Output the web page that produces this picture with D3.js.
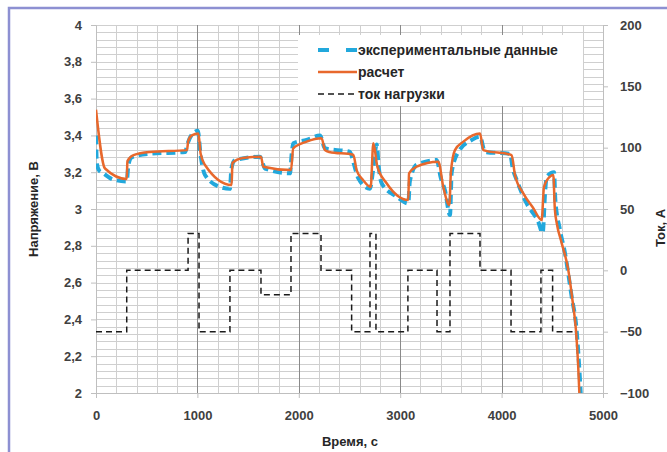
<!DOCTYPE html>
<html>
<head>
<meta charset="utf-8">
<script src="https://cdn.jsdelivr.net/npm/d3@7/dist/d3.min.js"></script>
<style>
body { margin: 0; background: #fff; }
text { font-family: "Liberation Sans", Arial, sans-serif; font-weight: bold; }
</style>
</head>
<body>
<script>
// experimental voltage (blue dashed), time in s
var tExp = [0, 8, 30, 70, 170, 303, 320, 352, 532, 880, 900, 976, 1005, 1030, 1075, 1223, 1321, 1335, 1371, 1617, 1667, 1913, 1930, 1946, 2077, 2209, 2258, 2505, 2540, 2587, 2702, 2730, 2768, 2790, 2817, 2965, 3080, 3095, 3162, 3360, 3400, 3442, 3491, 3508, 3573, 3705, 3787, 3836, 4083, 4110, 4149, 4247, 4362, 4405, 4430, 4445, 4517, 4530, 4576, 4625, 4691, 4740, 4773, 4785];
var vExp = [3.40, 3.25, 3.21, 3.195, 3.16, 3.15, 3.24, 3.28, 3.30, 3.31, 3.35, 3.42, 3.425, 3.30, 3.185, 3.12, 3.11, 3.22, 3.266, 3.284, 3.22, 3.194, 3.30, 3.357, 3.375, 3.40, 3.33, 3.31, 3.25, 3.167, 3.11, 3.20, 3.35, 3.22, 3.14, 3.067, 3.03, 3.15, 3.24, 3.266, 3.17, 3.10, 2.967, 3.20, 3.31, 3.375, 3.393, 3.31, 3.30, 3.22, 3.158, 3.03, 2.93, 2.87, 3.10, 3.176, 3.20, 3.05, 2.886, 2.76, 2.523, 2.34, 2.07, 1.95];

// calculated voltage (orange)
var tCalc = [0, 89, 303, 310, 370, 532, 897, 910, 945, 1010, 1032, 1075, 1338, 1345, 1450, 1627, 1650, 1923, 1945, 2077, 2225, 2258, 2300, 2537, 2571, 2633, 2709, 2735, 2775, 2866, 3080, 3087, 3162, 3376, 3425, 3485, 3500, 3540, 3623, 3787, 3820, 4099, 4132, 4214, 4313, 4395, 4418, 4477, 4510, 4525, 4545, 4590, 4658, 4700, 4734, 4755, 4767, 4780];
var vCalc = [3.54, 3.22, 3.163, 3.26, 3.293, 3.31, 3.32, 3.37, 3.40, 3.41, 3.30, 3.239, 3.13, 3.25, 3.277, 3.284, 3.23, 3.212, 3.33, 3.366, 3.384, 3.32, 3.31, 3.295, 3.21, 3.158, 3.12, 3.357, 3.23, 3.14, 3.049, 3.194, 3.23, 3.257, 3.12, 3.022, 3.20, 3.32, 3.366, 3.41, 3.32, 3.293, 3.185, 3.085, 3.004, 2.94, 3.12, 3.176, 3.185, 3.0, 2.92, 2.82, 2.668, 2.50, 2.337, 2.15, 2.0, 1.9];

// load current (A), steps start at these times
var tLoad = [0, 303, 908, 1016, 1321, 1627, 1923, 2219, 2521, 2702, 2761, 3076, 3363, 3491, 3787, 4093, 4388, 4503, 4750];
var iLoad = [-50, 0, 30, -50, 0, -20, 30, 0, -50, 30, -50, 0, -50, 30, 0, -50, 0, -50, -50];

var xTicks = [0, 1000, 2000, 3000, 4000, 5000];
var vTicks = [2, 2.2, 2.4, 2.6, 2.8, 3, 3.2, 3.4, 3.6, 3.8, 4];
var iTicks = [-100, -50, 0, 50, 100, 150, 200];
var legendNames = ["экспериментальные данные", "расчет", "ток нагрузки"];

var width = 667;
var height = 452;
var pLeft = 96, pRight = 603, pTop = 25, pBottom = 393;

var svg = d3.select("body")
    .append("svg")
    .attr("width", width)
    .attr("height", height);

// outer frame (only top and left edges are visible)
svg.append("rect")
    .attr("x", 9)
    .attr("y", 8)
    .attr("width", 700)
    .attr("height", 500)
    .style("fill", "none")
    .style("stroke", "#8d90d2")
    .style("stroke-width", 2.5);

var x = d3.scaleLinear().domain([0, 5000]).range([pLeft, pRight]);
var yV = d3.scaleLinear().domain([2, 4]).range([pBottom, pTop]);
var yI = d3.scaleLinear().domain([-100, 200]).range([pBottom, pTop]);

var grid = svg.append("g")
    .attr("class", "grid")
    .style("shape-rendering", "crispEdges");

// horizontal grid every 0.04 V
grid.selectAll("line.h")
    .data(d3.range(0, 51).map(i => 2 + i * 0.04))
    .enter()
    .append("line")
    .attr("class", "h")
    .attr("x1", pLeft)
    .attr("x2", pRight)
    .attr("y1", d => Math.round(yV(d)) + 0.5)
    .attr("y2", d => Math.round(yV(d)) + 0.5)
    .style("stroke", "#cfcfcf");

// vertical grid every 200 s, darker on the thousands
grid.selectAll("line.v")
    .data(d3.range(0, 26).map(i => i * 200))
    .enter()
    .append("line")
    .attr("class", "v")
    .attr("x1", d => Math.round(x(d)) + 0.5)
    .attr("x2", d => Math.round(x(d)) + 0.5)
    .attr("y1", pTop)
    .attr("y2", pBottom)
    .style("stroke", d => (d % 1000 == 0 && d > 0 && d < 5000) ? "#8a8a8a" : "#cfcfcf");

var fmt = d => String(+d.toFixed(1)).replace(".", ",");

function styleAxis(g){
    g.select(".domain").style("stroke", "#bfbfbf");
    g.selectAll(".tick line").style("stroke", "#bfbfbf");
    g.selectAll("text")
        .style("font-size", "13px")
        .style("font-family", "'Liberation Sans', Arial, sans-serif")
        .style("font-weight", "bold")
        .style("fill", "#404040");
}

svg.append("g")
    .attr("transform", "translate(0," + pBottom + ")")
    .call(d3.axisBottom(x).tickValues(xTicks).tickSize(5).tickPadding(13).tickFormat(d3.format("d")))
    .call(styleAxis);

svg.append("g")
    .attr("transform", "translate(" + pLeft + ",0)")
    .call(d3.axisLeft(yV).tickValues(vTicks).tickSize(5).tickPadding(9).tickFormat(fmt))
    .call(styleAxis);

svg.append("g")
    .attr("transform", "translate(" + pRight + ",0)")
    .call(d3.axisRight(yI).tickValues(iTicks).tickSize(5).tickPadding(12).tickFormat(d3.format("d")))
    .call(styleAxis);

// axis titles
svg.append("text")
    .attr("transform", "translate(38," + (pTop + pBottom) / 2 + ") rotate(-90)")
    .attr("text-anchor", "middle")
    .style("font-size", "13px")
    .style("fill", "#262626")
    .text("Напряжение, В");

svg.append("text")
    .attr("transform", "translate(665,228) rotate(-90)")
    .attr("text-anchor", "middle")
    .style("font-size", "13px")
    .style("fill", "#262626")
    .text("Ток, А");

svg.append("text")
    .attr("x", 350)
    .attr("y", 446)
    .attr("text-anchor", "middle")
    .style("font-size", "13px")
    .style("fill", "#262626")
    .text("Время, с");

// curves, clipped to plot area
svg.append("clipPath")
    .attr("id", "plot")
    .append("rect")
    .attr("x", pLeft)
    .attr("y", pTop)
    .attr("width", pRight - pLeft)
    .attr("height", pBottom - pTop);

var curves = svg.append("g").attr("clip-path", "url(#plot)");

var vLine = d3.line()
    .x(d => x(d[0]))
    .y(d => yV(d[1]))
    .curve(d3.curveMonotoneX);

var iLine = d3.line()
    .x(d => x(d[0]))
    .y(d => yI(d[1]))
    .curve(d3.curveStepAfter);

curves.append("path")
    .datum(d3.zip(tLoad, iLoad))
    .attr("d", iLine)
    .style("fill", "none")
    .style("stroke", "#1a1a1a")
    .style("stroke-width", 1.5)
    .style("stroke-dasharray", "6,4");

curves.append("path")
    .datum(d3.zip(tExp, vExp))
    .attr("d", vLine)
    .style("fill", "none")
    .style("stroke", "#22a8dc")
    .style("stroke-width", 4)
    .style("stroke-dasharray", "9,5");

curves.append("path")
    .datum(d3.zip(tCalc, vCalc))
    .attr("d", vLine)
    .style("fill", "none")
    .style("stroke", "#e8682c")
    .style("stroke-width", 2.5);

// legend
var legend = svg.append("g");
legend.append("rect")
    .attr("x", 298)
    .attr("y", 35)
    .attr("width", 285)
    .attr("height", 71)
    .style("fill", "#fff");

var legendStyles = [
    {stroke: "#22a8dc", width: 4, dash: "11,17"},
    {stroke: "#e8682c", width: 2.5, dash: null},
    {stroke: "#1a1a1a", width: 1.5, dash: "6,4"}
];

legend.selectAll("g.item")
    .data(legendNames)
    .enter()
    .append("g")
    .attr("class", "item")
    .attr("transform", (d, i) => "translate(318," + (50 + i * 22) + ")")
    .each(function(d, i){
        var g = d3.select(this);
        g.append("line")
            .attr("x1", 0)
            .attr("x2", 39)
            .style("stroke", legendStyles[i].stroke)
            .style("stroke-width", legendStyles[i].width)
            .style("stroke-dasharray", legendStyles[i].dash);
        g.append("text")
            .attr("x", 40)
            .attr("y", 5)
            .style("font-size", "14px")
            .style("fill", "#262626")
            .text(d);
    });
</script>
</body>
</html>
